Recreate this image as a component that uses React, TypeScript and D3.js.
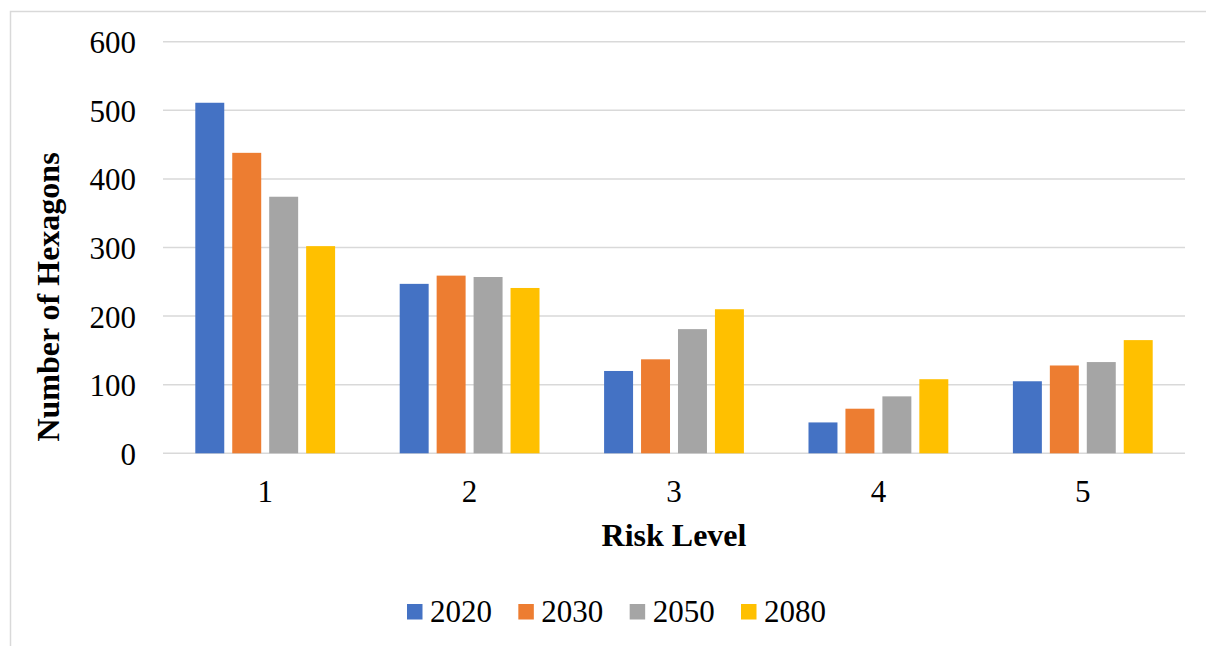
import React from "react";
import * as d3 from "d3";

const categories = ["1", "2", "3", "4", "5"];
const seriesNames = ["2020", "2030", "2050", "2080"];
const values2020 = [511, 247, 120, 45, 105];
const values2030 = [438, 259, 137, 65, 128];
const values2050 = [374, 257, 181, 83, 133];
const values2080 = [302, 241, 210, 108, 165];
const yTicks = [0, 100, 200, 300, 400, 500, 600];
const colors = ["#4472C4", "#ED7D31", "#A5A5A5", "#FFC000"];

const seriesValues = [values2020, values2030, values2050, values2080];

const W = 1206;
const H = 646;
const FONT = "'Liberation Serif', 'Times New Roman', serif";

export default function App() {
  const left = 163;
  const right = 1185;
  const top = 41.7;
  const bottom = 453.3;

  const x0 = d3
    .scaleBand<string>()
    .domain(categories)
    .range([left, right])
    .paddingInner(0.316)
    .paddingOuter(0.158);
  const x1 = d3
    .scaleBand<string>()
    .domain(seriesNames)
    .range([0, x0.bandwidth()])
    .paddingInner(0.216);
  const y = d3.scaleLinear().domain([0, 600]).range([bottom, top]);

  const legendX = d3
    .scalePoint<string>()
    .domain(seriesNames)
    .range([407, 741]);

  return (
    <svg
      width={W}
      height={H}
      style={{ position: "absolute", left: 0, top: 0, background: "#fff" }}
      fontFamily={FONT}
    >
      {/* chart frame */}
      <path d={`M10.5,${H} V11.5 H${W}`} fill="none" stroke="#d9d9d9" strokeWidth={1.5} />

      {/* gridlines */}
      {yTicks.map((t) => (
        <line
          key={t}
          x1={left}
          x2={right}
          y1={y(t)}
          y2={y(t)}
          stroke="#d9d9d9"
          strokeWidth={1.5}
        />
      ))}

      {/* y tick labels */}
      {yTicks.map((t) => (
        <text key={t} x={136} y={y(t) + 11.5} textAnchor="end" fontSize={31} fill="#000">
          {t}
        </text>
      ))}

      {/* bars */}
      {categories.map((c, ci) => (
        <g key={c} transform={`translate(${x0(c)},0)`}>
          {seriesNames.map((s, si) => {
            const v = seriesValues[si][ci];
            return (
              <rect
                key={s}
                x={x1(s)}
                y={y(v)}
                width={x1.bandwidth()}
                height={bottom - y(v)}
                fill={colors[si]}
              />
            );
          })}
        </g>
      ))}

      {/* x tick labels */}
      {categories.map((c) => (
        <text
          key={c}
          x={(x0(c) as number) + x0.bandwidth() / 2}
          y={502}
          textAnchor="middle"
          fontSize={31}
          fill="#000"
        >
          {c}
        </text>
      ))}

      {/* axis titles */}
      <text x={674} y={546} textAnchor="middle" fontSize={32} fontWeight="bold" fill="#000">
        Risk Level
      </text>
      <text
        transform="translate(59,297) rotate(-90)"
        textAnchor="middle"
        fontSize={32}
        fontWeight="bold"
        fill="#000"
      >
        Number of Hexagons
      </text>

      {/* legend */}
      {seriesNames.map((s, i) => (
        <g key={s} transform={`translate(${legendX(s)},0)`}>
          <rect x={0} y={604} width={15.5} height={15.5} fill={colors[i]} />
          <text x={23} y={622} fontSize={31} fill="#000">
            {s}
          </text>
        </g>
      ))}
    </svg>
  );
}
